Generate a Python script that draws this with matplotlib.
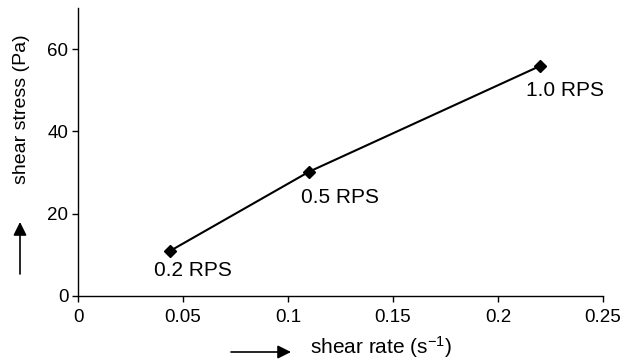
import matplotlib
matplotlib.use("Agg")
import matplotlib.pyplot as plt

plt.rcParams['font.family'] = ['Liberation Sans', 'DejaVu Sans']
plt.rcParams['mathtext.fontset'] = 'custom'
plt.rcParams['mathtext.rm'] = 'Liberation Sans'
plt.rcParams['mathtext.default'] = 'regular'

shear_rate = [0.044, 0.11, 0.22]
shear_stress = [11.0, 30.2, 55.9]
labels = ["0.2 RPS", "0.5 RPS", "1.0 RPS"]
label_offsets = [(23, -20), (31, -26), (25, -24)]  # pixels

fig = plt.figure(figsize=(6.32, 3.63), dpi=100)
ax = fig.add_axes([78 / 632, 1 - 296 / 363, 525 / 632, 288 / 363])

ax.plot(shear_rate, shear_stress, color="black", lw=1.5,
        marker="D", markersize=6, markerfacecolor="black", markeredgecolor="black")

for x, y, lab, off in zip(shear_rate, shear_stress, labels, label_offsets):
    ax.annotate(lab, (x, y), xytext=off, textcoords="offset pixels",
                ha="center", va="center", fontsize=15)

ax.set_xlim(0, 0.25)
ax.set_ylim(0, 70)
ax.set_xticks([0, 0.05, 0.1, 0.15, 0.2, 0.25])
ax.set_xticklabels(["0", "0.05", "0.1", "0.15", "0.2", "0.25"])
ax.set_yticks([0, 20, 40, 60])
ax.tick_params(direction="out", length=4, width=1, labelsize=13.5)
ax.tick_params(axis="x", pad=5)
ax.tick_params(axis="y", pad=3)
for s in ["top", "right"]:
    ax.spines[s].set_visible(False)
for s in ["left", "bottom"]:
    ax.spines[s].set_linewidth(1)

# axis titles with arrows (figure pixel coords)
W, H = 632, 363
fig.text(381 / W, 1 - 347 / H, "shear rate (s$^{-1}$)", ha="center", va="center", fontsize=15)
fig.text(22 / W, 1 - 109 / H, "shear stress (Pa)", ha="center", va="center",
         rotation=90, fontsize=14)
ax.annotate("", xy=(291 / W, 1 - 352 / H), xytext=(231 / W, 1 - 352 / H),
            xycoords="figure fraction", textcoords="figure fraction",
            arrowprops=dict(arrowstyle="-|>", color="black", lw=1.2, mutation_scale=20,
                            shrinkA=0, shrinkB=0))
ax.annotate("", xy=(20 / W, 1 - 222 / H), xytext=(20 / W, 1 - 274 / H),
            xycoords="figure fraction", textcoords="figure fraction",
            arrowprops=dict(arrowstyle="-|>", color="black", lw=1.2, mutation_scale=20,
                            shrinkA=0, shrinkB=0))

fig.savefig("out.png", dpi=100)
